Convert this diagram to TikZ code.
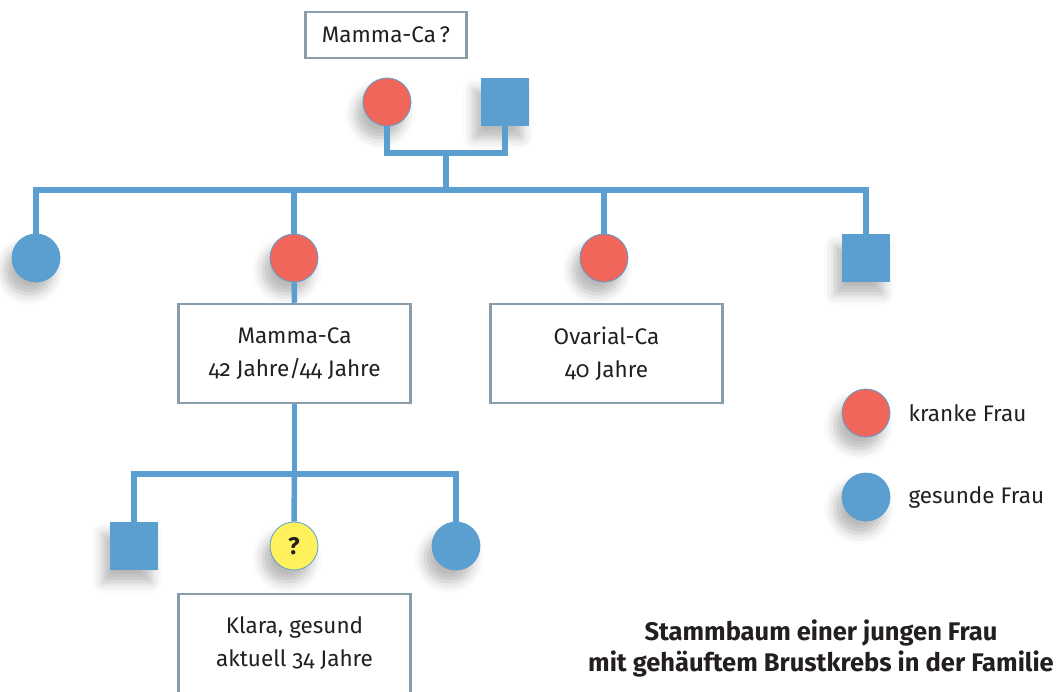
\documentclass[tikz,border=0pt]{standalone}
\usepackage{fontspec}
\setmainfont{Fira Sans}[Numbers=OldStyle]
\usetikzlibrary{shadows.blur}
\definecolor{sickred}{HTML}{F0665A}
\definecolor{famblue}{HTML}{5A9FCF}
\definecolor{askyellow}{HTML}{FFF15C}
\definecolor{boxgray}{HTML}{8A9DAA}
\definecolor{inkgray}{HTML}{231F20}
\begin{document}
\begin{tikzpicture}[x=1pt,y=-1pt,
	link/.style={draw=famblue,line width=5.5pt,line join=miter},
	soft/.style={blur shadow={shadow xshift=-7pt,shadow yshift=-12pt,
		shadow blur radius=11pt,shadow opacity=28}},
	woman/.style={circle,soft,draw=famblue,line width=0.8pt,inner sep=0pt,minimum size=48pt},
	man/.style={rectangle,soft,fill=famblue,inner sep=0pt,minimum size=48pt},
	info/.style={rectangle,draw=boxgray,line width=2.5pt,fill=white,align=center,
		text=inkgray,font=\fontsize{22.5}{33}\selectfont,minimum width=232pt,minimum height=99pt}]
		\useasboundingbox (0,0) rectangle (1059,691);
		
		% generation 1
		\node (top) at (386,35) [info,minimum width=161pt,minimum height=46pt] {Mamma-Ca\,?};
		\node (mom) at (387,102) [woman,fill=sickred]{};
		\node (dad) at (505,102) [man]{};
		
		% generation 2
		\node (s1) at (36,258) [woman,fill=famblue]{};
		\node (s2) at (294,258) [woman,fill=sickred]{};
		\node (s3) at (604,258) [woman,fill=sickred]{};
		\node (s4) at (866,258) [man]{};
		\node (b2) at (294.5,353.5) [info] {Mamma-Ca\\42 Jahre/44 Jahre};
		\node (b3) at (606.5,353.5) [info] {Ovarial-Ca\\40 Jahre};
		
		% generation 3
		\node (c1) at (134,546) [man]{};
		\node (c2) at (294,546) [woman,fill=askyellow,text=inkgray,
			font=\fontsize{24}{24}\selectfont\bfseries]{?};
		\node (c3) at (456,546) [woman,fill=famblue]{};
		\node (klara) at (294.5,643.5) [info] {Klara, gesund\\aktuell 34 Jahre};
		
		% legend and title
		\node (lk) at (866,413) [woman,fill=sickred]{};
		\node (lg) at (866,497) [woman,fill=famblue]{};
		\node (tk) at (905,413) [anchor=west,text=inkgray,font=\fontsize{22.5}{26}\selectfont] {kranke Frau};
		\node (tg) at (905,497) [anchor=west,text=inkgray,font=\fontsize{22.5}{26}\selectfont] {gesunde Frau};
		\node (title) at (821,648) [align=center,text=inkgray,
			font=\fontsize{25.5}{31}\selectfont\bfseries] {Stammbaum einer jungen Frau\\mit gehäuftem Brustkrebs in der Familie};
		
		\coordinate (pj) at (446,153);
		\coordinate (sib) at (446,190);
		\coordinate (kj) at (294.5,474);
		
		\path [link] (mom.south) |- (pj) -| (dad.south);
		\path [link] (pj) -- (sib);
		\path [link] (s1.north) |- (sib) -| (s4.north);
		\path [link] (s2.north) -- (s2.north |- sib);
		\path [link] (s3.north) -- (s3.north |- sib);
		\path [link] (s2.south) -- (b2.north);
		\path [link] (b2.south) -- (kj);
		\path [link] (c1.north) |- (kj) -| (c3.north);
		\path [link] (c2.north) -- (kj);
\end{tikzpicture}
\end{document}
